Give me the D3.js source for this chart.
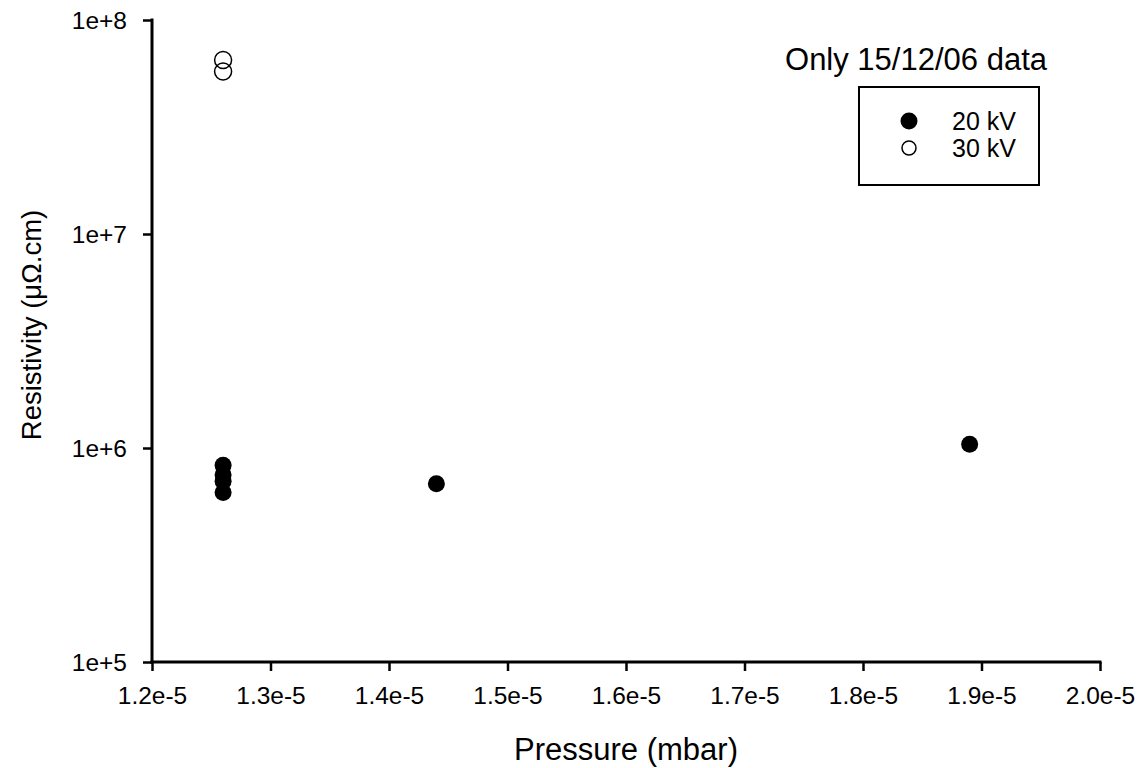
<!DOCTYPE html>
<html>
<head>
<meta charset="utf-8">
<script src="https://cdn.jsdelivr.net/npm/d3@7"></script>
<style>
  body { margin: 0; background: #fff; }
  text { font-family: "Liberation Sans", Arial, sans-serif; fill: #000; }
</style>
</head>
<body>
<div id="chart"></div>
<script>
// data
const kv20Pressure = [1.26e-5, 1.26e-5, 1.26e-5, 1.26e-5, 1.44e-5, 1.89e-5];
const kv20Resist = [8.3e5, 7.5e5, 7.0e5, 6.2e5, 6.8e5, 1.04e6];
const kv30Pressure = [1.26e-5, 1.26e-5];
const kv30Resist = [6.5e7, 5.75e7];
const xTicks = [1.2e-5, 1.3e-5, 1.4e-5, 1.5e-5, 1.6e-5, 1.7e-5, 1.8e-5, 1.9e-5, 2.0e-5];
const xTickLabels = ['1.2e-5', '1.3e-5', '1.4e-5', '1.5e-5', '1.6e-5', '1.7e-5', '1.8e-5', '1.9e-5', '2.0e-5'];
const yTicks = [1e5, 1e6, 1e7, 1e8];
const yTickLabels = ['1e+5', '1e+6', '1e+7', '1e+8'];
const legendLabels = ['20 kV', '30 kV'];

const W = 1140, H = 768;
const m = {left: 152, right: 40, top: 20, bottom: 106};

const svg = d3.select('#chart').append('svg')
  .attr('width', W)
  .attr('height', H);

const x = d3.scaleLinear().domain([1.2e-5, 2.0e-5]).range([m.left, W - m.right]);
const y = d3.scaleLog().domain([1e5, 1e8]).range([H - m.bottom, m.top]);

// axes
const xAxis = svg.append('g')
  .attr('transform', `translate(0,${H - m.bottom})`)
  .call(d3.axisBottom(x).tickValues(xTicks).tickFormat((d, i) => xTickLabels[i]).tickSize(9).tickPadding(16));
const yAxis = svg.append('g')
  .attr('transform', `translate(${m.left},0)`)
  .call(d3.axisLeft(y).tickValues(yTicks).tickFormat((d, i) => yTickLabels[i]).tickSize(9).tickPadding(16));

[xAxis, yAxis].forEach(a => {
  a.select('.domain').attr('stroke', '#000').attr('stroke-width', 3)
    .attr('d', a === xAxis ? `M${m.left - 1.5},0H${W - m.right + 1.5}` : `M0,${H - m.bottom + 1.5}V${m.top - 1.5}`);
  a.selectAll('.tick line').attr('stroke', '#000').attr('stroke-width', 2.5);
  a.selectAll('.tick text').attr('font-size', 24.5).style('font-family', '"Liberation Sans", Arial, sans-serif').attr('fill', '#000');
});
yAxis.selectAll('.tick text').attr('dy', '0.36em');

// axis titles
svg.append('text')
  .attr('x', (m.left + W - m.right) / 2)
  .attr('y', 760)
  .attr('text-anchor', 'middle')
  .attr('font-size', 31)
  .text('Pressure (mbar)');
svg.append('text')
  .attr('transform', 'translate(41,325) rotate(-90)')
  .attr('text-anchor', 'middle')
  .attr('font-size', 27.5)
  .text('Resistivity (μΩ.cm)');

// points
svg.selectAll('.p20')
  .data(kv20Pressure.map((p, i) => [p, kv20Resist[i]]))
  .enter().append('circle')
  .attr('class', 'p20')
  .attr('cx', d => x(d[0]))
  .attr('cy', d => y(d[1]))
  .attr('r', 8.5)
  .attr('fill', '#000');

svg.selectAll('.p30')
  .data(kv30Pressure.map((p, i) => [p, kv30Resist[i]]))
  .enter().append('circle')
  .attr('class', 'p30')
  .attr('cx', d => x(d[0]))
  .attr('cy', d => y(d[1]))
  .attr('r', 8.5)
  .attr('fill', 'none')
  .attr('stroke', '#000')
  .attr('stroke-width', 1.5);

// annotation + legend
svg.append('text')
  .attr('x', 1047)
  .attr('y', 70)
  .attr('text-anchor', 'end')
  .attr('font-size', 31)
  .text('Only 15/12/06 data');

const legend = svg.append('g');
legend.append('rect')
  .attr('x', 859).attr('y', 87)
  .attr('width', 180).attr('height', 98)
  .attr('fill', 'none')
  .attr('stroke', '#000')
  .attr('stroke-width', 2);
legendLabels.forEach((lab, i) => {
  const cy = 121 + i * 27;
  legend.append('circle')
    .attr('cx', 909).attr('cy', cy)
    .attr('r', i === 0 ? 8.5 : 7)
    .attr('fill', i === 0 ? '#000' : 'none')
    .attr('stroke', '#000')
    .attr('stroke-width', i === 0 ? 0 : 1.5);
  legend.append('text')
    .attr('x', 952).attr('y', cy + 9)
    .attr('font-size', 25)
    .text(lab);
});
</script>
</body>
</html>
